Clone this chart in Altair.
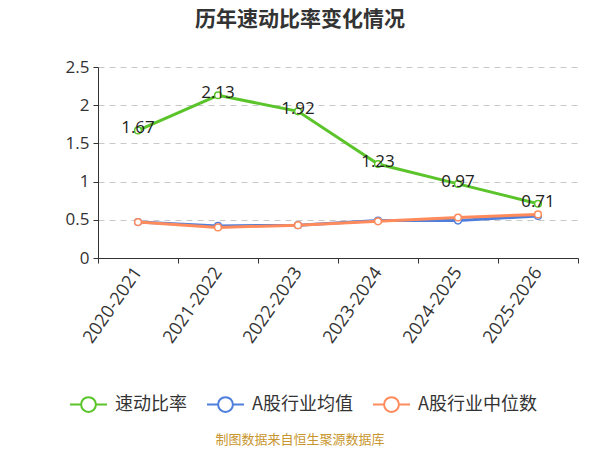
import altair as alt
import pandas as pd

years = ["2020-2021", "2021-2022", "2022-2023", "2023-2024", "2024-2025", "2025-2026"]
quick_ratio = [1.67, 2.13, 1.92, 1.23, 0.97, 0.71]
industry_mean = [0.47, 0.42, 0.43, 0.49, 0.49, 0.55]
industry_median = [0.47, 0.40, 0.43, 0.48, 0.53, 0.57]
series_names = ["速动比率", "A股行业均值", "A股行业中位数"]
series_colors = ["#5ac42a", "#4f7fdc", "#ff8b5c"]
title_text = ["历年速动比率变化情况"]
source_text = ["制图数据来自恒生聚源数据库"]

rows = []
for k, (name, vals) in enumerate(zip(series_names, [quick_ratio, industry_mean, industry_median])):
    for yr, v in zip(years, vals):
        rows.append({"year": yr, "value": v, "series": name, "order": k})
df = pd.DataFrame(rows)
df_quick = df[df["series"] == "速动比率"]

CJK = "Noto Sans CJK SC"
NUM = "Open Sans"
sym_path = ("M-1,0L-0.4,0M0.4,0L1,0"
            "M-0.4,0A0.4,0.4 0 1,0 0.4,0A0.4,0.4 0 1,0 -0.4,0")

x_enc = alt.X("year:N", sort=years, title=None,
              scale=alt.Scale(paddingInner=0, paddingOuter=0),
              axis=alt.Axis(labelAngle=305, labelAlign="right", labelBaseline="middle",
                            labelFontSize=18, labelColor="#333", labelPadding=6,
                            tickBand="extent", tickSize=5, tickColor="#333",
                            domainColor="#333", grid=False, labelFont=NUM))
y_enc = alt.Y("value:Q", title=None,
              scale=alt.Scale(domain=[0, 2.5], nice=False),
              axis=alt.Axis(values=[0, 0.5, 1, 1.5, 2, 2.5], format="~g",
                            labelFontSize=17, labelColor="#333", labelPadding=4,
                            tickSize=5, tickColor="#333", domainColor="#333",
                            grid=True, gridDash=[6, 5], gridColor="#c8c8c8",
                            labelFont=NUM, labelOverlap=False))
color_scale = alt.Scale(domain=series_names, range=series_colors)

lines = alt.Chart(df).mark_line(strokeWidth=3).encode(
    x=x_enc, y=y_enc,
    color=alt.Color("series:N", scale=color_scale,
                    legend=alt.Legend(title=None, orient="none", direction="horizontal",
                                      legendX=-29, legendY=318,
                                      symbolType=sym_path, symbolSize=1369,
                                      symbolStrokeWidth=2, symbolFillColor="white",
                                      labelFontSize=18, labelColor="#333",
                                      labelFont=CJK, labelOffset=7,
                                      columnPadding=16)),
    order=alt.Order("order:Q"),
    detail="series:N")

points = alt.Chart(df).mark_point(shape="circle", filled=True, fill="white", size=45,
                                  strokeWidth=1.5, opacity=1).encode(
    x=x_enc, y=y_enc,
    stroke=alt.Stroke("series:N", scale=color_scale, legend=None),
    order=alt.Order("order:Q"))

labels = alt.Chart(df_quick).mark_text(fontSize=17, color="#222", baseline="middle",
                                       dy=-2, font=NUM).encode(
    x=x_enc, y=y_enc, text=alt.Text("value:Q", format=".2f"))

title = alt.Chart(pd.DataFrame({"t": title_text})).mark_text(
    fontSize=21, fontWeight="bold", color="#333", font=CJK, align="center",
    baseline="middle").encode(x=alt.value(202), y=alt.value(-47.5), text="t:N")

footer = alt.Chart(pd.DataFrame({"t": source_text})).mark_text(
    fontSize=13, color="#c8962e", font=CJK, align="center", baseline="middle").encode(
    x=alt.value(202), y=alt.value(373), text="t:N")

chart = alt.layer(lines, points, labels, title, footer).properties(
    width=480, height=191,
    autosize=alt.AutoSizeParams(type="none"),
    padding={"left": 90, "top": 59, "right": 14, "bottom": 190},
).configure_view(stroke=None)

chart.save("out.html", embed_options={"renderer": "svg", "actions": False})
